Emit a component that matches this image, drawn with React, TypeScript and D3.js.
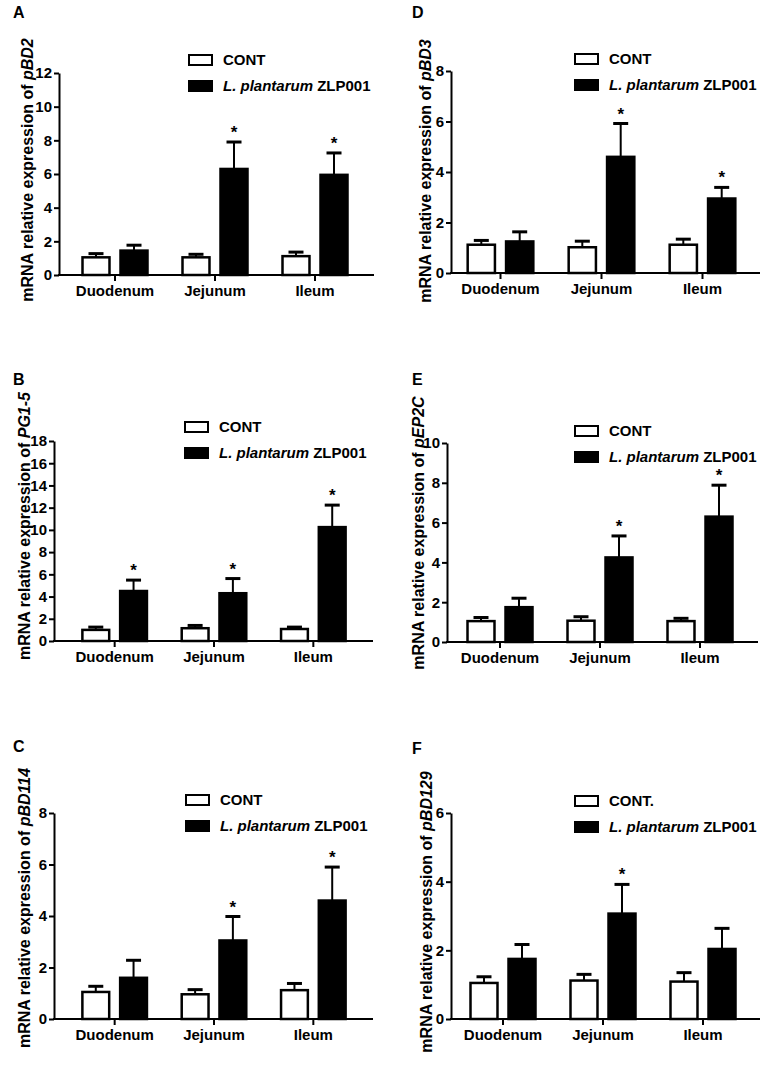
import React, { useRef, useEffect } from 'react';
import * as d3 from 'd3';

const categories = ['Duodenum', 'Jejunum', 'Ileum'];
const groups = ['cont', 'zlp'];

// A - pBD2
const pBD2Cont = [1.05, 1.05, 1.12];
const pBD2ContErr = [0.22, 0.18, 0.24];
const pBD2Zlp = [1.45, 6.3, 5.95];
const pBD2ZlpErr = [0.32, 1.6, 1.3];
const pBD2Sig = [false, true, true];
const pBD2Ticks = [0, 2, 4, 6, 8, 10, 12];

// B - PG1-5
const pg15Cont = [1.0, 1.15, 1.08];
const pg15ContErr = [0.25, 0.25, 0.17];
const pg15Zlp = [4.5, 4.3, 10.25];
const pg15ZlpErr = [0.98, 1.32, 1.98];
const pg15Sig = [true, true, true];
const pg15Ticks = [0, 2, 4, 6, 8, 10, 12, 14, 16, 18];

// C - pBD114
const pBD114Cont = [1.05, 0.96, 1.12];
const pBD114ContErr = [0.22, 0.18, 0.26];
const pBD114Zlp = [1.6, 3.05, 4.6];
const pBD114ZlpErr = [0.68, 0.93, 1.3];
const pBD114Sig = [false, true, true];
const pBD114Ticks = [0, 2, 4, 6, 8];

// D - pBD3
const pBD3Cont = [1.12, 1.02, 1.12];
const pBD3ContErr = [0.17, 0.24, 0.22];
const pBD3Zlp = [1.25, 4.6, 2.95];
const pBD3ZlpErr = [0.38, 1.32, 0.44];
const pBD3Sig = [false, true, true];
const pBD3Ticks = [0, 2, 4, 6, 8];

// E - pEP2C
const pEP2CCont = [1.05, 1.07, 1.05];
const pEP2CContErr = [0.18, 0.2, 0.14];
const pEP2CZlp = [1.75, 4.25, 6.3];
const pEP2CZlpErr = [0.45, 1.08, 1.58];
const pEP2CSig = [false, true, true];
const pEP2CTicks = [0, 2, 4, 6, 8, 10];

// F - pBD129
const pBD129Cont = [1.05, 1.12, 1.09];
const pBD129ContErr = [0.18, 0.18, 0.26];
const pBD129Zlp = [1.75, 3.07, 2.04];
const pBD129ZlpErr = [0.42, 0.85, 0.6];
const pBD129Sig = [false, true, false];
const pBD129Ticks = [0, 2, 4, 6];

interface Panel {
  letter: string;
  gene: string;
  contName: string;
  cont: number[];
  contErr: number[];
  zlp: number[];
  zlpErr: number[];
  sig: boolean[];
  ticks: number[];
  axisX: number;
  axisEnd: number;
  groupRange: [number, number];
  y0: number;
  yTop: number;
  letterPos: [number, number];
  labelX: number;
  labelY: number;
  legendPos: [number, number];
}

const panels: Panel[] = [
  {
    letter: 'A', gene: 'pBD2', contName: 'CONT',
    cont: pBD2Cont, contErr: pBD2ContErr, zlp: pBD2Zlp, zlpErr: pBD2ZlpErr, sig: pBD2Sig, ticks: pBD2Ticks,
    axisX: 59, axisEnd: 374, groupRange: [65, 365], y0: 275, yTop: 73,
    letterPos: [13, 18], labelX: 33, labelY: 170, legendPos: [188, 54],
  },
  {
    letter: 'B', gene: 'PG1-5', contName: 'CONT',
    cont: pg15Cont, contErr: pg15ContErr, zlp: pg15Zlp, zlpErr: pg15ZlpErr, sig: pg15Sig, ticks: pg15Ticks,
    axisX: 54, axisEnd: 373, groupRange: [65, 363], y0: 641, yTop: 441,
    letterPos: [13, 385], labelX: 30, labelY: 526, legendPos: [184, 421],
  },
  {
    letter: 'C', gene: 'pBD114', contName: 'CONT',
    cont: pBD114Cont, contErr: pBD114ContErr, zlp: pBD114Zlp, zlpErr: pBD114ZlpErr, sig: pBD114Sig, ticks: pBD114Ticks,
    axisX: 54, axisEnd: 373, groupRange: [65, 363], y0: 1019, yTop: 813,
    letterPos: [13, 752], labelX: 30, labelY: 908, legendPos: [185, 794],
  },
  {
    letter: 'D', gene: 'pBD3', contName: 'CONT',
    cont: pBD3Cont, contErr: pBD3ContErr, zlp: pBD3Zlp, zlpErr: pBD3ZlpErr, sig: pBD3Sig, ticks: pBD3Ticks,
    axisX: 451, axisEnd: 760, groupRange: [450, 753], y0: 273, yTop: 71,
    letterPos: [412, 18], labelX: 431, labelY: 171, legendPos: [574, 53],
  },
  {
    letter: 'E', gene: 'pEP2C', contName: 'CONT',
    cont: pEP2CCont, contErr: pEP2CContErr, zlp: pEP2CZlp, zlpErr: pEP2CZlpErr, sig: pEP2CSig, ticks: pEP2CTicks,
    axisX: 447, axisEnd: 758, groupRange: [450, 750], y0: 642, yTop: 443,
    letterPos: [412, 385], labelX: 424, labelY: 533, legendPos: [574, 425],
  },
  {
    letter: 'F', gene: 'pBD129', contName: 'CONT.',
    cont: pBD129Cont, contErr: pBD129ContErr, zlp: pBD129Zlp, zlpErr: pBD129ZlpErr, sig: pBD129Sig, ticks: pBD129Ticks,
    axisX: 451, axisEnd: 760, groupRange: [453, 753], y0: 1019, yTop: 813,
    letterPos: [412, 754], labelX: 432, labelY: 912, legendPos: [574, 795],
  },
];

const FONT = 'Arial, "Liberation Sans", sans-serif';
const width = 765;
const height = 1071;

const App: React.FC = () => {
  const svgRef = useRef<SVGSVGElement>(null);

  useEffect(() => {
    if (!svgRef.current) return;
    document.body.style.margin = '0';

    const svg = d3.select(svgRef.current);
    svg.selectAll('*').remove();

    panels.forEach((p) => {
      const g = svg.append('g').style('font-family', FONT);

      const yScale = d3.scaleLinear()
        .domain([0, d3.max(p.ticks) as number])
        .range([p.y0, p.yTop]);

      const x0 = d3.scaleBand<string>()
        .domain(categories)
        .range(p.groupRange)
        .paddingInner(0.35)
        .paddingOuter(0.175);

      const x1 = d3.scaleBand<string>()
        .domain(groups)
        .range([0, x0.bandwidth()])
        .paddingInner(0.29);

      const rows = categories.map((c, i) => ({
        cat: c,
        bars: [
          { key: 'cont', mean: p.cont[i], err: p.contErr[i], sig: false },
          { key: 'zlp', mean: p.zlp[i], err: p.zlpErr[i], sig: p.sig[i] },
        ],
      }));

      // bars with upper error bars
      rows.forEach((row) => {
        row.bars.forEach((b) => {
          const bx = (x0(row.cat) as number) + (x1(b.key) as number);
          const cx = bx + x1.bandwidth() / 2;
          g.append('rect')
            .attr('x', bx)
            .attr('y', yScale(b.mean))
            .attr('width', x1.bandwidth())
            .attr('height', p.y0 - yScale(b.mean))
            .attr('fill', b.key === 'cont' ? '#ffffff' : '#000000')
            .attr('stroke', '#000000')
            .attr('stroke-width', 2.5);

          const top = yScale(b.mean + b.err);
          g.append('line')
            .attr('x1', cx).attr('x2', cx)
            .attr('y1', yScale(b.mean)).attr('y2', top)
            .attr('stroke', '#000').attr('stroke-width', 2);
          g.append('line')
            .attr('x1', cx - 7.5).attr('x2', cx + 7.5)
            .attr('y1', top).attr('y2', top)
            .attr('stroke', '#000').attr('stroke-width', 3);

          if (b.sig) {
            g.append('text')
              .attr('x', cx)
              .attr('y', top - 4)
              .attr('text-anchor', 'middle')
              .style('font-size', '17px')
              .style('font-weight', 'bold')
              .text('*');
          }
        });
      });

      // y axis
      const yAxis = g.append('g')
        .attr('transform', `translate(${p.axisX},0)`)
        .call(
          d3.axisLeft(yScale)
            .tickValues(p.ticks)
            .tickFormat(d3.format('d'))
            .tickSize(5)
            .tickPadding(2)
            .tickSizeOuter(0)
        );
      yAxis.select('.domain').attr('stroke-width', 2);
      yAxis.selectAll('.tick line').attr('stroke-width', 2);
      yAxis.selectAll('.tick text')
        .style('font-size', '15px')
        .style('font-weight', 'bold')
        .style('font-family', FONT)
        .attr('fill', '#000');

      // x axis
      const xAxis = g.append('g')
        .attr('transform', `translate(0,${p.y0})`)
        .call(d3.axisBottom(x0).tickSize(6).tickPadding(4).tickSizeOuter(0));
      xAxis.select('.domain').remove();
      xAxis.selectAll('.tick line').attr('stroke-width', 2);
      xAxis.selectAll('.tick text')
        .style('font-size', '15px')
        .style('font-weight', 'bold')
        .style('font-family', FONT)
        .attr('fill', '#000');
      g.append('line')
        .attr('x1', p.axisX - 1).attr('x2', p.axisEnd)
        .attr('y1', p.y0).attr('y2', p.y0)
        .attr('stroke', '#000').attr('stroke-width', 2);

      // y axis label
      const label = g.append('text')
        .attr('transform', `translate(${p.labelX},${p.labelY}) rotate(-90)`)
        .attr('text-anchor', 'middle')
        .style('font-size', '16px')
        .style('font-weight', 'bold');
      label.append('tspan').text('mRNA relative expression of ');
      label.append('tspan').style('font-style', 'italic').text(p.gene);

      // panel letter
      g.append('text')
        .attr('x', p.letterPos[0])
        .attr('y', p.letterPos[1])
        .style('font-size', '16px')
        .style('font-weight', 'bold')
        .text(p.letter);

      // legend
      const [lx, ly] = p.legendPos;
      const legendRows = [
        { fill: '#ffffff', key: 'cont' },
        { fill: '#000000', key: 'zlp' },
      ];
      legendRows.forEach((r, i) => {
        const ry = ly + i * 26;
        g.append('rect')
          .attr('x', lx + 1)
          .attr('y', ry + 1)
          .attr('width', 23)
          .attr('height', 10)
          .attr('fill', r.fill)
          .attr('stroke', '#000')
          .attr('stroke-width', 2);
        const t = g.append('text')
          .attr('x', lx + 35)
          .attr('y', ry + 6)
          .attr('dy', '0.36em')
          .style('font-size', '15px')
          .style('font-weight', 'bold');
        if (r.key === 'cont') {
          t.text(p.contName);
        } else {
          t.append('tspan').style('font-style', 'italic').text('L. plantarum');
          t.append('tspan').text(' ZLP001');
        }
      });
    });
  }, []);

  return (
    <svg
      ref={svgRef}
      width={width}
      height={height}
      viewBox={`0 0 ${width} ${height}`}
      style={{ position: 'absolute', left: 0, top: 0, background: '#fff' }}
    ></svg>
  );
};

export default App;
